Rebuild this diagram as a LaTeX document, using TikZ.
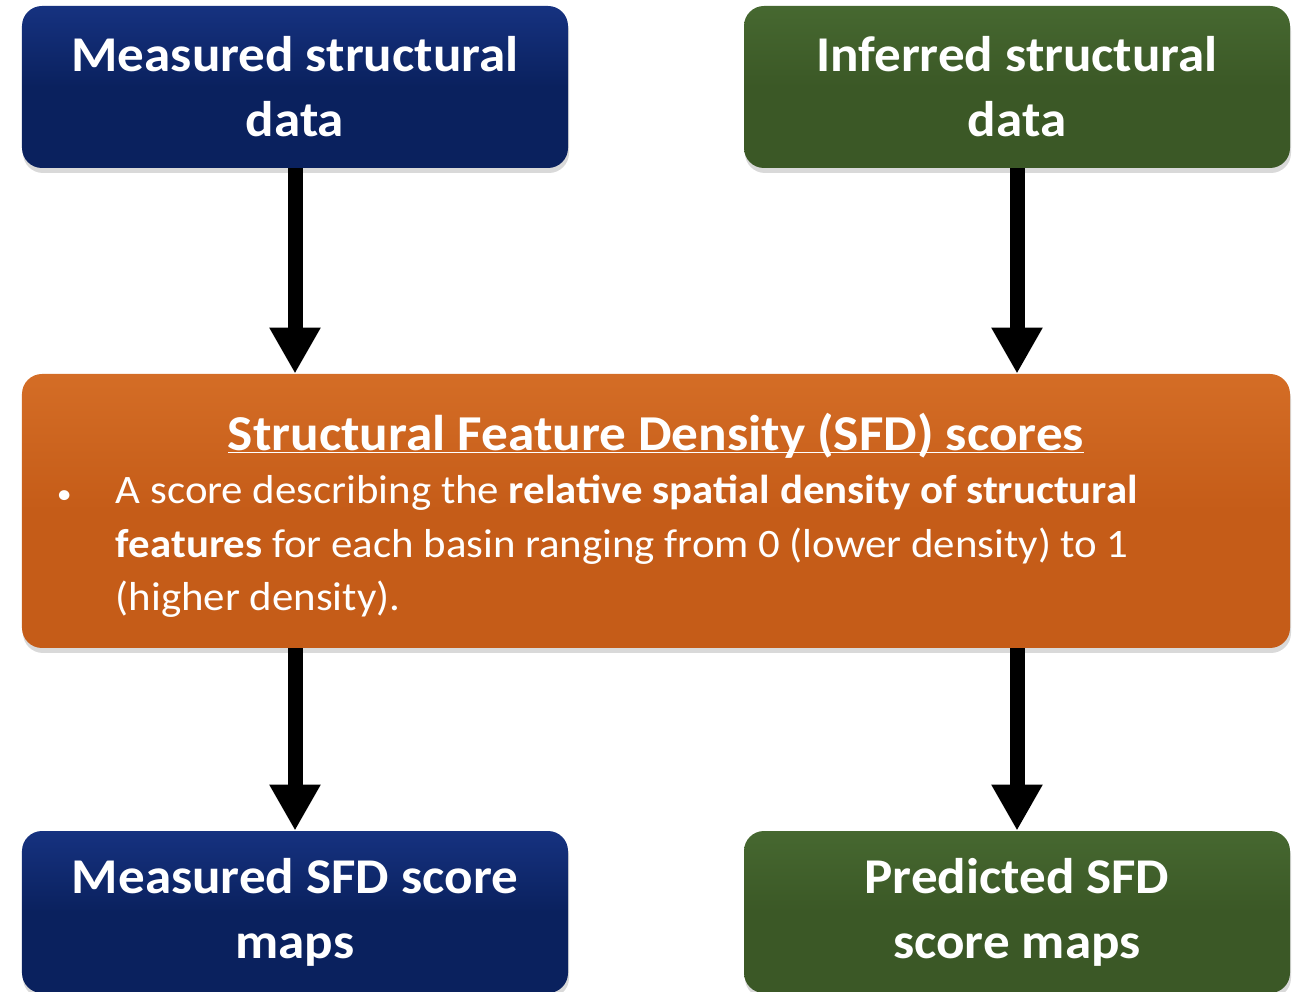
\documentclass[tikz,border=0pt]{standalone}
\usepackage{fontspec}
\setmainfont{Carlito}[FakeStretch=1.06]
\usetikzlibrary{shapes.geometric, arrows.meta, positioning, shadows}
\definecolor{navytop}{HTML}{163280}
\definecolor{navybot}{HTML}{0A215E}
\definecolor{greentop}{HTML}{466830}
\definecolor{greenbot}{HTML}{3B5826}
\definecolor{orangetop}{HTML}{D46D26}
\definecolor{orangebot}{HTML}{C55C18}
\tikzstyle{block} = [rectangle, rounded corners=0.4cm, minimum width=10.92cm, minimum height=3.24cm, text width=10cm, align=flush center, text=white, font=\fontsize{28.5}{37}\selectfont\bfseries, drop shadow={shadow xshift=0.02cm, shadow yshift=-0.1cm, opacity=0.3}]
\tikzstyle{bluebox} = [block, top color=navytop, bottom color=navybot, middle color=navybot]
\tikzstyle{greenbox} = [block, top color=greentop, bottom color=greenbot, middle color=greenbot]
\tikzstyle{arrow} = [line width=0.3cm, -{Triangle[width=0.96cm, length=0.92cm]}]

\begin{document}
\begin{tikzpicture}[node distance=1.0cm, auto]
    \useasboundingbox (0,0) rectangle (25.88,-19.84);
    % Structural data
    \node (measured) [bluebox] at (5.9,-1.74) {Measured structural\\data};
    \node (inferred) [greenbox, right of=measured, xshift=13.44cm] {Inferred structural\\data};

    % SFD scores
    \node (sfd) [block, top color=orangetop, bottom color=orangebot, middle color=orangebot, below of=measured, xshift=7.22cm, yshift=-7.48cm, minimum width=25.36cm, minimum height=5.48cm, text width=23.96cm, align=flush left, font=\fontsize{23}{30.5}\selectfont] {\makebox[\linewidth]{\rule{0pt}{0.92cm}\fontsize{28.6}{31.3}\selectfont\bfseries\underline{\smash{Structural Feature Density (SFD) scores}}}\\
    \makebox[1.18cm][l]{\fontsize{16}{16}\selectfont\textbullet}A score describing the \textbf{relative spatial density of structural}\\
    \hspace*{1.18cm}\textbf{features} for each basin ranging from 0 (lower density) to 1\\
    \hspace*{1.18cm}(higher density).};

    % Score maps
    \node (mmaps) [bluebox, below of=sfd, xshift=-7.22cm, yshift=-7.02cm] {Measured SFD score\\maps};
    \node (pmaps) [greenbox, right of=mmaps, xshift=13.44cm] {Predicted SFD\\score maps};

    % Connections
    \draw [arrow] (measured.south) -- (measured.south |- sfd.north);
    \draw [arrow] (inferred.south) -- (inferred.south |- sfd.north);
    \draw [arrow] (sfd.south -| mmaps.north) -- (mmaps.north);
    \draw [arrow] (sfd.south -| pmaps.north) -- (pmaps.north);
\end{tikzpicture}
\end{document}
